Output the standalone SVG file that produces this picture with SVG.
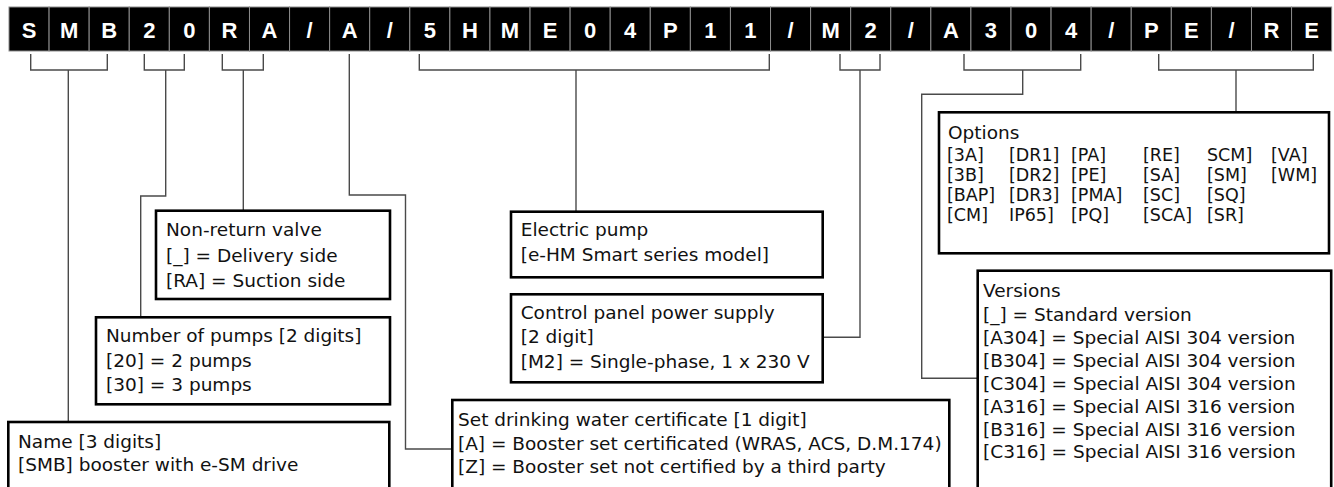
<svg xmlns="http://www.w3.org/2000/svg" width="1334" height="487" viewBox="0 0 1334 487">
<style>
.cell{fill:#000;stroke:#8c8c8c;stroke-width:1}
.ct{font-family:"Liberation Sans",Arial,sans-serif;font-weight:bold;font-size:22px;fill:#fff;text-anchor:middle}
.box{fill:#fff;stroke:#000;stroke-width:2.6}
.t{font-family:"DejaVu Sans","Open Sans",sans-serif;font-size:18.5px;fill:#111}
.o{font-family:"DejaVu Sans","Open Sans",sans-serif;font-size:17.5px;fill:#111}
.ln{fill:none;stroke:#4a4a4a;stroke-width:1.4}
</style>
<rect width="1334" height="487" fill="#fff"/>
<g id="code">
<rect class="cell" x="9" y="7" width="40.08" height="44"/><text class="ct" x="29.04" y="38">S</text>
<rect class="cell" x="49.08" y="7" width="40.08" height="44"/><text class="ct" x="69.12" y="38">M</text>
<rect class="cell" x="89.16" y="7" width="40.08" height="44"/><text class="ct" x="109.2" y="38">B</text>
<rect class="cell" x="129.24" y="7" width="40.08" height="44"/><text class="ct" x="149.28" y="38">2</text>
<rect class="cell" x="169.32" y="7" width="40.08" height="44"/><text class="ct" x="189.36" y="38">0</text>
<rect class="cell" x="209.4" y="7" width="40.08" height="44"/><text class="ct" x="229.44" y="38">R</text>
<rect class="cell" x="249.48" y="7" width="40.08" height="44"/><text class="ct" x="269.52" y="38">A</text>
<rect class="cell" x="289.56" y="7" width="40.08" height="44"/><text class="ct" x="309.6" y="38">/</text>
<rect class="cell" x="329.64" y="7" width="40.08" height="44"/><text class="ct" x="349.68" y="38">A</text>
<rect class="cell" x="369.72" y="7" width="40.08" height="44"/><text class="ct" x="389.76" y="38">/</text>
<rect class="cell" x="409.8" y="7" width="40.08" height="44"/><text class="ct" x="429.84" y="38">5</text>
<rect class="cell" x="449.88" y="7" width="40.08" height="44"/><text class="ct" x="469.92" y="38">H</text>
<rect class="cell" x="489.96" y="7" width="40.08" height="44"/><text class="ct" x="510" y="38">M</text>
<rect class="cell" x="530.04" y="7" width="40.08" height="44"/><text class="ct" x="550.08" y="38">E</text>
<rect class="cell" x="570.12" y="7" width="40.08" height="44"/><text class="ct" x="590.16" y="38">0</text>
<rect class="cell" x="610.2" y="7" width="40.08" height="44"/><text class="ct" x="630.24" y="38">4</text>
<rect class="cell" x="650.28" y="7" width="40.08" height="44"/><text class="ct" x="670.32" y="38">P</text>
<rect class="cell" x="690.36" y="7" width="40.08" height="44"/><text class="ct" x="710.4" y="38">1</text>
<rect class="cell" x="730.44" y="7" width="40.08" height="44"/><text class="ct" x="750.48" y="38">1</text>
<rect class="cell" x="770.52" y="7" width="40.08" height="44"/><text class="ct" x="790.56" y="38">/</text>
<rect class="cell" x="810.6" y="7" width="40.08" height="44"/><text class="ct" x="830.64" y="38">M</text>
<rect class="cell" x="850.68" y="7" width="40.08" height="44"/><text class="ct" x="870.72" y="38">2</text>
<rect class="cell" x="890.76" y="7" width="40.08" height="44"/><text class="ct" x="910.8" y="38">/</text>
<rect class="cell" x="930.84" y="7" width="40.08" height="44"/><text class="ct" x="950.88" y="38">A</text>
<rect class="cell" x="970.92" y="7" width="40.08" height="44"/><text class="ct" x="990.96" y="38">3</text>
<rect class="cell" x="1011" y="7" width="40.08" height="44"/><text class="ct" x="1031.04" y="38">0</text>
<rect class="cell" x="1051.08" y="7" width="40.08" height="44"/><text class="ct" x="1071.12" y="38">4</text>
<rect class="cell" x="1091.16" y="7" width="40.08" height="44"/><text class="ct" x="1111.2" y="38">/</text>
<rect class="cell" x="1131.24" y="7" width="40.08" height="44"/><text class="ct" x="1151.28" y="38">P</text>
<rect class="cell" x="1171.32" y="7" width="40.08" height="44"/><text class="ct" x="1191.36" y="38">E</text>
<rect class="cell" x="1211.4" y="7" width="40.08" height="44"/><text class="ct" x="1231.44" y="38">/</text>
<rect class="cell" x="1251.48" y="7" width="40.08" height="44"/><text class="ct" x="1271.52" y="38">R</text>
<rect class="cell" x="1291.56" y="7" width="40.08" height="44"/><text class="ct" x="1311.6" y="38">E</text>
</g>
<g id="connectors">
<path class="ln" d="M30.7,54V70H107.3V54M68.3,70V422"/>
<path class="ln" d="M144.3,54V70H184.3V54M165.7,70V196H140.7V317"/>
<path class="ln" d="M222.3,54V70H263.3V54M243.3,70V211"/>
<path class="ln" d="M349.3,54V195H405.5V449H452"/>
<path class="ln" d="M419.3,54V70H769.3V54M576,70V212"/>
<path class="ln" d="M840,54V70H880V54M860,70V337.3H823"/>
<path class="ln" d="M964,54V70H1080.7V54M1022.7,70V94.3H921.7V378.3H977.7"/>
<path class="ln" d="M1158.7,54V70H1313.3V54M1236,70V112"/>
</g>
<g id="node-nonreturn">
<rect class="box" x="156" y="210.7" width="234" height="88.3"/>
<text class="t" x="166" y="235.7">Non-return valve</text>
<text class="t" x="166" y="261.5">[_] = Delivery side</text>
<text class="t" x="166" y="287">[RA] = Suction side</text>
</g>
<g id="node-pumps">
<rect class="box" x="96" y="317.3" width="294" height="87"/>
<text class="t" x="106" y="342">Number of pumps [2 digits]</text>
<text class="t" x="106" y="366.5">[20] = 2 pumps</text>
<text class="t" x="106" y="390.7">[30] = 3 pumps</text>
</g>
<g id="node-name">
<rect class="box" x="8.3" y="422" width="381" height="75"/>
<text class="t" x="18" y="448">Name [3 digits]</text>
<text class="t" x="18" y="471">[SMB] booster with e-SM drive</text>
</g>
<g id="node-electric">
<rect class="box" x="511" y="211.7" width="311.7" height="65.6"/>
<text class="t" x="520.7" y="236">Electric pump</text>
<text class="t" x="520.7" y="260.5">[e-HM Smart series model]</text>
</g>
<g id="node-control">
<rect class="box" x="511" y="294.3" width="311.7" height="88"/>
<text class="t" x="520.7" y="318.5">Control panel power supply</text>
<text class="t" x="520.7" y="343">[2 digit]</text>
<text class="t" x="520.7" y="367.5">[M2] = Single-phase, 1 x 230 V</text>
</g>
<g id="node-certificate">
<rect class="box" x="452.3" y="400" width="497" height="97"/>
<text class="t" x="458" y="426">Set drinking water certificate [1 digit]</text>
<text class="t" x="458" y="450">[A] = Booster set certificated (WRAS, ACS, D.M.174)</text>
<text class="t" x="458" y="473">[Z] = Booster set not certified by a third party</text>
</g>
<g id="node-options">
<rect class="box" x="939" y="112.3" width="390" height="141"/>
<text class="t" x="948" y="139">Options</text>
<g class="o">
<text x="947" y="161">[3A]</text><text x="1009" y="161">[DR1]</text><text x="1071" y="161">[PA]</text><text x="1143" y="161">[RE]</text><text x="1207" y="161">SCM]</text><text x="1271" y="161">[VA]</text>
<text x="947" y="181">[3B]</text><text x="1009" y="181">[DR2]</text><text x="1071" y="181">[PE]</text><text x="1143" y="181">[SA]</text><text x="1207" y="181">[SM]</text><text x="1271" y="181">[WM]</text>
<text x="947" y="201">[BAP]</text><text x="1009" y="201">[DR3]</text><text x="1071" y="201">[PMA]</text><text x="1143" y="201">[SC]</text><text x="1207" y="201">[SQ]</text>
<text x="947" y="221">[CM]</text><text x="1009" y="221">IP65]</text><text x="1071" y="221">[PQ]</text><text x="1143" y="221">[SCA]</text><text x="1207" y="221">[SR]</text>
</g>
</g>
<g id="node-versions">
<rect class="box" x="977.7" y="270.7" width="353.5" height="226"/>
<text class="t" x="983" y="297">Versions</text>
<text class="t" x="983" y="321">[_] = Standard version</text>
<text class="t" x="983" y="344">[A304] = Special AISI 304 version</text>
<text class="t" x="983" y="367">[B304] = Special AISI 304 version</text>
<text class="t" x="983" y="390">[C304] = Special AISI 304 version</text>
<text class="t" x="983" y="413">[A316] = Special AISI 316 version</text>
<text class="t" x="983" y="435.5">[B316] = Special AISI 316 version</text>
<text class="t" x="983" y="458">[C316] = Special AISI 316 version</text>
</g>
</svg>
